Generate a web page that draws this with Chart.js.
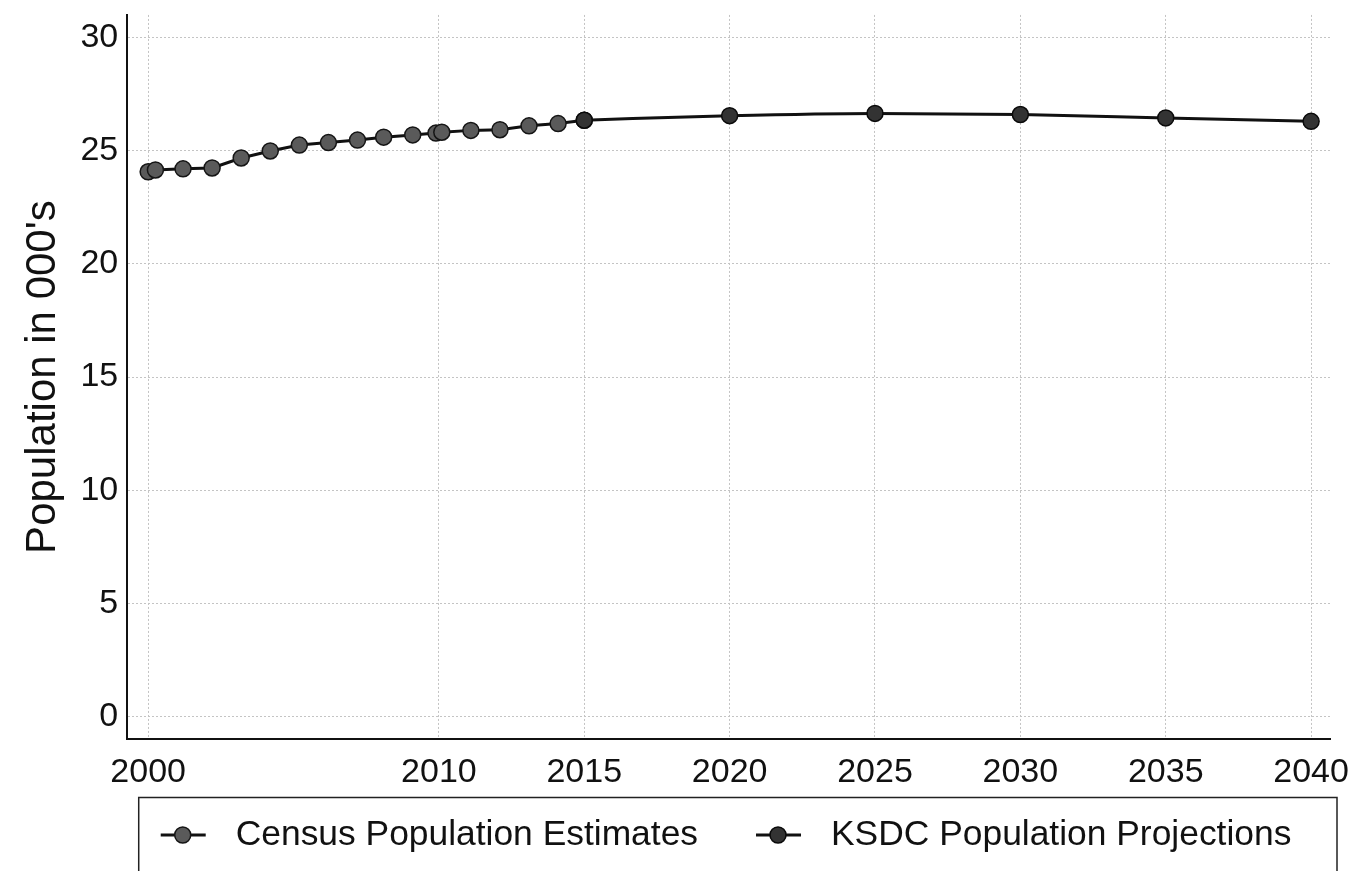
<!DOCTYPE html>
<html>
<head>
<meta charset="utf-8">
<script src="https://cdn.jsdelivr.net/npm/chart.js@4"></script>
<style>
  html, body { margin: 0; padding: 0; background: #fff; }
  #wrap { width: 1366px; height: 871px; }
</style>
</head>
<body>
<div id="wrap"><canvas id="popChart" width="1366" height="871"></canvas></div>
<script>
// census estimates (years, two points near 2000 and 2010)
var censusYears = [2000, 2000.25, 2001.2, 2002.2, 2003.2, 2004.2, 2005.2, 2006.2, 2007.2,
  2008.1, 2009.1, 2009.9, 2010.1, 2011.1, 2012.1, 2013.1, 2014.1, 2015];
var censusValues = [24.07, 24.15, 24.2, 24.24, 24.68, 24.99, 25.25, 25.36, 25.47,
  25.6, 25.7, 25.78, 25.82, 25.9, 25.93, 26.1, 26.2, 26.35];

var ksdcYears = [2015, 2020, 2025, 2030, 2035, 2040];
var ksdcValues = [26.35, 26.55, 26.65, 26.6, 26.45, 26.3];

var xTicks = [2000, 2010, 2015, 2020, 2025, 2030, 2035, 2040];
var yTicks = [0, 5, 10, 15, 20, 25, 30];

var FONT = "'Liberation Sans', Arial, sans-serif";

function toPoints(xs, ys) {
  return xs.map(function (x, i) { return { x: x, y: ys[i] }; });
}

// legend drawn in a box under the plot, like the original
var boxLegend = {
  id: "boxLegend",
  afterDraw: function (chart) {
    var ctx = chart.ctx;
    var area = chart.chartArea;
    var boxLeft = area.left + 11.5;
    var boxTop = 797.5;
    ctx.save();
    ctx.strokeStyle = "#222";
    ctx.lineWidth = 1.5;
    ctx.strokeRect(boxLeft, boxTop, area.right + 7 - boxLeft, 120);
    ctx.font = "35.4px " + FONT;
    ctx.textBaseline = "middle";
    var x = boxLeft + 22;
    var y = 835;
    var order = [1, 0];
    order.forEach(function (di) {
      var ds = chart.data.datasets[di];
      ctx.strokeStyle = "#111";
      ctx.lineWidth = 3;
      ctx.beginPath();
      ctx.moveTo(x, y);
      ctx.lineTo(x + 45, y);
      ctx.stroke();
      ctx.beginPath();
      ctx.arc(x + 22, y, 8, 0, Math.PI * 2);
      ctx.fillStyle = ds.pointBackgroundColor;
      ctx.fill();
      ctx.lineWidth = 1.5;
      ctx.strokeStyle = ds.pointBorderColor;
      ctx.stroke();
      ctx.fillStyle = "#111";
      ctx.fillText(ds.label, x + 75, y);
      x += 75 + ctx.measureText(ds.label).width + 58;
    });
    ctx.restore();
  },
};

var popChart = new Chart(document.getElementById("popChart").getContext("2d"), {
  type: "line",
  data: {
    datasets: [
      {
        label: "KSDC Population Projections",
        data: toPoints(ksdcYears, ksdcValues),
        borderColor: "#111",
        borderWidth: 3,
        pointRadius: 8,
        pointBackgroundColor: "#333",
        pointBorderColor: "#0a0a0a",
        pointBorderWidth: 1.5,
        cubicInterpolationMode: "monotone",
        fill: false,
      },
      {
        label: "Census Population Estimates",
        data: toPoints(censusYears, censusValues),
        borderColor: "#111",
        borderWidth: 3,
        pointRadius: 8,
        pointBackgroundColor: "#5a5a5a",
        pointBorderColor: "#151515",
        pointBorderWidth: 1.5,
        fill: false,
      },
    ],
  },
  options: {
    responsive: false,
    animation: false,
    layout: {
      padding: { top: 0, right: 36, bottom: 65, left: 0 },
    },
    plugins: {
      legend: { display: false },
      tooltip: { enabled: false },
    },
    scales: {
      x: {
        type: "linear",
        min: 1999.28,
        max: 2040.65,
        afterBuildTicks: function (axis) {
          axis.ticks = xTicks.map(function (v) { return { value: v }; });
        },
        ticks: {
          color: "#111",
          padding: 13,
          maxRotation: 0,
          font: { family: FONT, size: 34 },
          callback: function (v) { return String(v); },
        },
        grid: { color: "#c4c4c4", lineWidth: 1, drawTicks: false },
        border: { display: true, color: "#111", width: 2, dash: [2, 2] },
      },
      y: {
        min: -1,
        max: 31,
        afterBuildTicks: function (axis) {
          axis.ticks = yTicks.map(function (v) { return { value: v }; });
        },
        ticks: {
          color: "#111",
          padding: 9,
          font: { family: FONT, size: 34, lineHeight: 0.35 },
        },
        grid: { color: "#c4c4c4", lineWidth: 1, drawTicks: false },
        border: { display: true, color: "#111", width: 2, dash: [2, 2] },
        title: {
          display: true,
          text: "Population in 000's",
          color: "#111",
          font: { family: FONT, size: 42 },
          padding: { top: 18, bottom: 3 },
        },
      },
    },
  },
  plugins: [boxLegend],
});
</script>
</body>
</html>
